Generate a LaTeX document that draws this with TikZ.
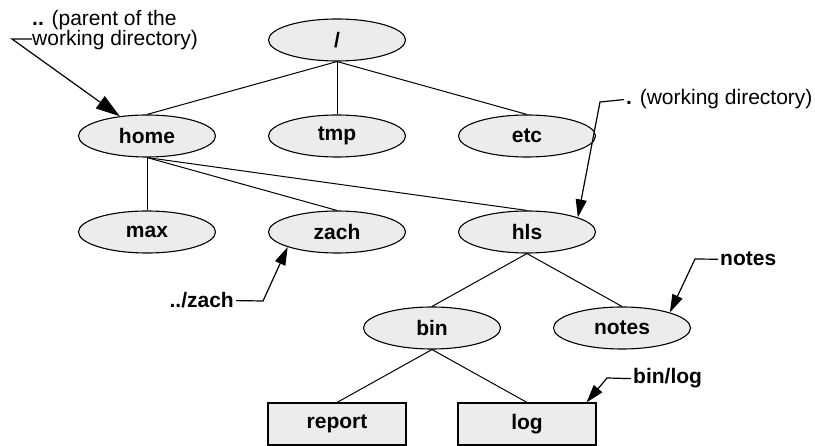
\documentclass[tikz,border=0pt]{standalone}
\usepackage{fontspec}
\setmainfont{Liberation Sans}
\usetikzlibrary{shapes.geometric,arrows.meta,positioning}

\begin{document}
\begin{tikzpicture}[x=1pt,y=-1pt,
  dir/.style={ellipse,draw,line width=1.1pt,fill=gray!15,minimum width=137pt,minimum height=42pt,inner sep=0pt,font=\fontsize{21}{20}\selectfont\bfseries},
  file/.style={rectangle,draw,line width=1.1pt,fill=gray!15,minimum width=138pt,minimum height=42pt,inner sep=0pt,font=\fontsize{21}{20}\selectfont\bfseries},
  tag/.style={inner sep=2pt,font=\fontsize{21}{20}\selectfont},
  pointer/.style={line width=1.2pt,-{Triangle[length=18pt,width=11pt]}}]
\useasboundingbox (0,0) rectangle (815,446);
% Directories and files
\node[dir] (root) at (337,40) {/};
\node[dir] (home) at (147,136) {home};
\node[dir] (tmp) at (337,136) {tmp};
\node[dir] (etc) at (527,136) {etc};
\node[dir] (max) at (147,232) {max};
\node[dir] (zach) at (337,232) {zach};
\node[dir] (hls) at (527,232) {hls};
\node[dir] (bin) at (432,328) {bin};
\node[dir] (notes) at (622,328) {notes};
\node[file] (report) at (337,424) {report};
\node[file] (log) at (527,424) {log};
% Tree edges
\foreach \a/\b in {root/home,root/tmp,root/etc,home/max,home/zach,home/hls,hls/bin,hls/notes,bin/report,bin/log}
  \draw[line width=1pt] (\a.south) -- (\b.north);
% Path labels
\node[tag,anchor=north west,align=left] (parentlbl) at (30,8) {\textbf{..} (parent of the\\working directory)};
\node[tag,anchor=base west] (dotlbl) at (624,105) {\textbf{.} (working directory)};
\node[tag,anchor=base east,font=\fontsize{21}{20}\selectfont\bfseries] (zachlbl) at (236,308) {../zach};
\node[tag,anchor=base west,font=\fontsize{21}{20}\selectfont\bfseries] (noteslbl) at (718,266) {notes};
\node[tag,anchor=base west,font=\fontsize{21}{20}\selectfont\bfseries] (loglbl) at (631,384) {bin/log};
% Leaders
\coordinate (parentend) at (32,39);
\coordinate (parentbend) at (12,39);
\coordinate (dotbend) at (600,102);
\coordinate (zachbend) at (263,301);
\coordinate (notesbend) at (695,259);
\coordinate (logbend) at (607,378);
\draw[pointer,-{Triangle[length=24pt,width=15pt]}] (parentend) -- (parentbend) -- (home.144);
\draw[pointer] (dotlbl.west) -- (dotbend) -- (hls.16);
\draw[pointer] (zachlbl.east) -- (zachbend) -- (zach.197);
\draw[pointer] (noteslbl.west) -- (notesbend) -- (notes.18);
\draw[pointer] (loglbl.west) -- (logbend) -- ([xshift=-10pt]log.north east);
\end{tikzpicture}
\end{document}
